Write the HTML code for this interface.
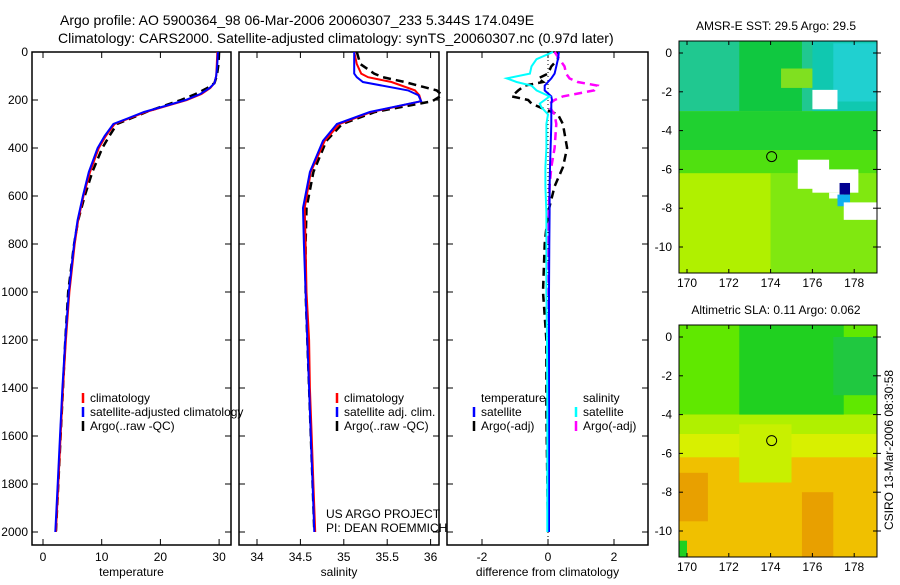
<!DOCTYPE html>
<html><head><meta charset="utf-8">
<style>
body{margin:0;background:#fff;width:900px;height:580px;overflow:hidden;font-family:"Liberation Sans",sans-serif}
svg text{font-family:"Liberation Sans",sans-serif;fill:#000}
</style></head>
<body>
<svg id="s" width="900" height="580" xmlns="http://www.w3.org/2000/svg">
<text x="60" y="25" font-size="14">Argo profile: AO 5900364_98 06-Mar-2006 20060307_233 5.344S 174.049E</text>
<text x="58" y="43" font-size="14">Climatology: CARS2000. Satellite-adjusted climatology: synTS_20060307.nc (0.97d later)</text>
<g id="g"></g>
</svg>
<script>
// ---- data ----
const depthT = [0,50,100,130,150,175,200,225,250,300,350,400,500,600,700,800,1000,1200,1400,1600,1800,2000];
const tempClim = [29.7,29.6,29.5,29.2,28.5,27,24.5,21,17.5,12.2,10.7,9.5,8.0,6.9,6.0,5.4,4.5,3.9,3.4,3.0,2.6,2.2];
const tempSat  = [29.8,29.7,29.5,29.2,28.4,26.8,24.3,20.8,17.2,12.0,10.5,9.3,7.8,6.8,5.9,5.3,4.4,3.8,3.3,2.9,2.5,2.1];
const tempArgo = [30.0,29.9,29.6,29.2,28.0,26.0,23.5,20.5,17.6,12.6,11.3,10.1,8.4,7.1,6.0,5.3,4.3,3.8,3.4,3.0,2.6,2.2];
const depthS = [0,50,90,105,125,160,180,205,250,300,370,500,650,800,1000,1200,1400,1600,1800,2000];
const salClim = [35.12,35.15,35.2,35.28,35.55,35.82,35.87,35.89,35.32,34.95,34.78,34.62,34.55,34.56,34.57,34.6,34.61,34.63,34.65,34.67];
const salSat  = [35.12,35.12,35.12,35.15,35.22,35.74,35.86,35.89,35.3,34.92,34.76,34.61,34.53,34.54,34.56,34.58,34.6,34.62,34.64,34.66];
const salArgo = [35.15,35.19,35.35,35.45,35.7,36.07,36.2,36.02,35.36,34.98,34.8,34.65,34.57,34.56,34.56,34.58,34.6,34.62,34.64,34.66];
const depthD = [0,30,60,90,110,125,140,160,185,200,215,230,260,300,400,480,560,670,800,1000,1200,1500,2000];
const dTempSat  = [0.33,0.3,0.25,0.2,0.1,0.0,-0.1,-0.1,0.1,0.12,0.1,0.1,0.1,0.1,0.08,0.06,0.05,0.05,0.04,0.03,0.03,0.03,0.03];
const dTempArgo = [0.3,0.3,0.1,0.0,-0.3,-0.15,-0.7,-0.9,-1.1,-0.6,-0.5,-0.25,0.3,0.45,0.58,0.45,0.2,0.0,-0.1,-0.15,-0.05,-0.05,0.0];
const dSalSat   = [0.15,-0.35,-0.5,-0.55,-1.25,-0.95,-0.5,-0.35,0.05,-0.1,-0.25,-0.2,0.0,-0.05,-0.05,-0.08,-0.08,-0.05,-0.05,-0.05,-0.03,-0.02,-0.02];
const dSalArgo  = [0.2,0.35,0.5,0.55,0.65,0.9,1.5,1.4,0.45,0.2,0.05,0.05,0.2,0.25,0.2,0.1,0.05,0.02,0.0,0.0,0.0,0.0,0.0];
const depthTicks = [0,200,400,600,800,1000,1200,1400,1600,1800,2000];
const tTicks = [0,10,20,30], sTicks = [34,34.5,35,35.5,36], dTicks = [-2,0,2];
const lonTicks = [170,172,174,176,178], latTicks = [0,-2,-4,-6,-8,-10];

const NS='http://www.w3.org/2000/svg', G=document.getElementById('g');
function mk(tag,at,parent){const e=document.createElementNS(NS,tag);for(const k in at)e.setAttribute(k,at[k]);(parent||G).appendChild(e);return e;}
const yD = d => 52 + d*0.24;
const panels = [
 {x0:32,x1:231,v0:43,sc:5.87,o:0,ticks:tTicks,label:'temperature',name:'temperature-panel'},
 {x0:239,x1:439,v0:257,sc:86.8,o:34,ticks:sTicks,label:'salinity',name:'salinity-panel'},
 {x0:447,x1:648,v0:548,sc:33,o:0,ticks:dTicks,label:'difference from climatology',name:'difference-panel'}];
panels.forEach((p,i)=>{
  const g=mk('g',{});
  
  
  mk('rect',{x:p.x0,y:52,width:p.x1-p.x0,height:493,fill:'none',stroke:'#000','stroke-width':1.5},g);
  depthTicks.forEach(d=>{
    mk('line',{x1:p.x0,x2:p.x0+6,y1:yD(d),y2:yD(d),stroke:'#000'},g);
    mk('line',{x1:p.x1-6,x2:p.x1,y1:yD(d),y2:yD(d),stroke:'#000'},g);
    if(i==0){const t=mk('text',{x:28,y:yD(d)+4,'font-size':12,'text-anchor':'end'},g);t.textContent=d;
      
      }
  });
  p.ticks.forEach(v=>{
    const x=p.v0+(v-p.o)*p.sc;
    mk('line',{x1:x,x2:x,y1:52,y2:58,stroke:'#000'},g);
    mk('line',{x1:x,x2:x,y1:539,y2:545,stroke:'#000'},g);
    const t=mk('text',{x:x,y:561,'font-size':12,'text-anchor':'middle'},g);t.textContent=v;
    
    
  });
  const t=mk('text',{x:(p.x0+p.x1)/2,y:576,'font-size':12,'text-anchor':'middle'},g);t.textContent=p.label;
  
  
});
mk('line',{x1:548,x2:548,y1:52,y2:545,stroke:'#000','stroke-dasharray':'1,3'});
function line(p,depths,vals,col,dash,name){
  const pts=depths.map((d,k)=>{let x=p.v0+(vals[k]-p.o)*p.sc;return Math.min(Math.max(x,p.x0),p.x1+3).toFixed(1)+','+yD(d).toFixed(1);}).join(' ');
  const e=mk('polyline',{points:pts,fill:'none',stroke:col,'stroke-width':dash?2.5:2,'stroke-dasharray':dash?'8,5':'none'});
  
  
}
const P=panels;
line(P[0],depthT,tempArgo,'#000',1,'temp-argo-line');
line(P[0],depthT,tempClim,'#f00',0,'temp-clim-line');
line(P[0],depthT,tempSat,'#00f',0,'temp-sat-line');
line(P[1],depthS,salArgo,'#000',1,'sal-argo-line');
line(P[1],depthS,salClim,'#f00',0,'sal-clim-line');
line(P[1],depthS,salSat,'#00f',0,'sal-sat-line');
line(P[2],depthD,dTempArgo,'#000',1,'dtemp-argo-line');
line(P[2],depthD,dSalArgo,'#f0f',1,'dsal-argo-line');
line(P[2],depthD,dTempSat,'#00f',0,'dtemp-sat-line');
line(P[2],depthD,dSalSat,'#0ff',0,'dsal-sat-line');

function legend(x,y,items,name){
  const g=mk('g',{});
  
  
  items.forEach((it,k)=>{
    if(it[1])mk('line',{x1:x,x2:x,y1:y+k*14-9,y2:y+k*14+1,stroke:it[1],'stroke-width':2.5},g);
    const t=mk('text',{x:x+7,y:y+k*14,'font-size':12},g);t.textContent=it[0];
  });
}
legend(83,402,[['climatology','#f00'],['satellite-adjusted climatology','#00f'],['Argo(..raw -QC)','#000']],'temperature-legend');
legend(337,402,[['climatology','#f00'],['satellite adj. clim.','#00f'],['Argo(..raw -QC)','#000']],'salinity-legend');
legend(474,402,[['temperature',null],['satellite','#00f'],['Argo(-adj)','#000']],'diff-temp-legend');
legend(576,402,[['salinity',null],['satellite','#0ff'],['Argo(-adj)','#f0f']],'diff-sal-legend');
{const t=mk('text',{x:326,y:518,'font-size':12});t.textContent='US ARGO PROJECT';
 
 const t2=mk('text',{x:326,y:532,'font-size':12});t2.textContent='PI: DEAN ROEMMICH';
 }

// ---- maps ----
const lonX = l => 687 + (l-170)*20.9;
function map(top,bot,lat0y,title,patches,name){
  const ly = la => lat0y - la*19.4;
  const g=mk('g',{});
  
  
  const cp='c'+top; const c=mk('clipPath',{id:cp},g); mk('rect',{x:679,y:top,width:198,height:bot-top},c);
  const gi=mk('g',{'clip-path':'url(#'+cp+')'},g);
  patches.forEach(q=>mk('rect',{x:lonX(q[0]),y:ly(q[2]),width:(q[1]-q[0])*20.9,height:(q[2]-q[3])*19.4,fill:q[4]},gi));
  mk('rect',{x:679,y:top,width:198,height:bot-top,fill:'none',stroke:'#000'},g);
  lonTicks.forEach(l=>{const x=lonX(l);
    mk('line',{x1:x,x2:x,y1:top,y2:top+4,stroke:'#000'},g);mk('line',{x1:x,x2:x,y1:bot-4,y2:bot,stroke:'#000'},g);
    const t=mk('text',{x:x,y:bot+14,'font-size':12,'text-anchor':'middle'},g);t.textContent=l;});
  latTicks.forEach(la=>{const y=ly(la);
    mk('line',{x1:679,x2:683,y1:y,y2:y,stroke:'#000'},g);mk('line',{x1:873,x2:881,y1:y,y2:y,stroke:'#000'},g);
    const t=mk('text',{x:672,y:y+4,'font-size':12,'text-anchor':'end'},g);t.textContent=la;});
  mk('circle',{cx:lonX(174.05),cy:ly(-5.34),r:5,fill:'none',stroke:'#000'},g);
  const t=mk('text',{x:776,y:top-11,'font-size':12,'text-anchor':'middle'},g);t.textContent=title;
}
// patches: [lonW, lonE, latN, latS, color]
map(41,273,53,'AMSR-E SST: 29.5  Argo: 29.5',[
 [169,180,1,-12,'#90ec10'],
 [169,180,1,-3,'#20c890'],
 [172.5,175.5,1,-3,'#10c840'],
 [176,180,1,-3,'#10c8b0'],
 [177,180,0.5,-2.5,'#20d0d0'],
 [174.5,176,-0.8,-1.8,'#80e020'],
 [169,180,-3,-5,'#20d030'],
 [169,180,-5,-6.2,'#50e010'],
 [169,174,-6.2,-11.5,'#b0f000'],
 [174,180,-6.2,-11.5,'#80e810'],
 [176,177.2,-1.9,-2.9,'#fff'],
 [175.3,176.8,-5.5,-7,'#fff'],
 [176,178.2,-6,-7.2,'#fff'],
 [176.8,177.5,-7.2,-7.5,'#fff'],
 [177.3,177.8,-6.7,-7.3,'#000090'],
 [177.2,177.8,-7.3,-7.9,'#10b0f0'],
 [177.5,179.2,-7.7,-8.6,'#fff']
],'sst-map');
map(325,557,337,'Altimetric SLA: 0.11  Argo: 0.062',[
 [169,180,1,-12,'#f0c000'],
 [169,180,1,-4,'#60e800'],
 [172.5,177.5,1,-4.5,'#20d020'],
 [177,179.2,0,-3,'#20c840'],
 [169,180,-4,-5,'#b0f000'],
 [169,180,-5,-6.2,'#d8f000'],
 [172.5,175,-4.5,-7.5,'#c8f000'],
 [169.5,171,-7,-9.5,'#e8a000'],
 [175.5,177,-8,-11.5,'#e8a000'],
 [169,170,-10.5,-11.5,'#20d020']
],'sla-map');
{const t=mk('text',{x:0,y:0,'font-size':12,transform:'translate(893,450) rotate(-90)','text-anchor':'middle'});
 t.textContent='CSIRO 13-Mar-2006 08:30:58';
 }
</script>
</body></html>
